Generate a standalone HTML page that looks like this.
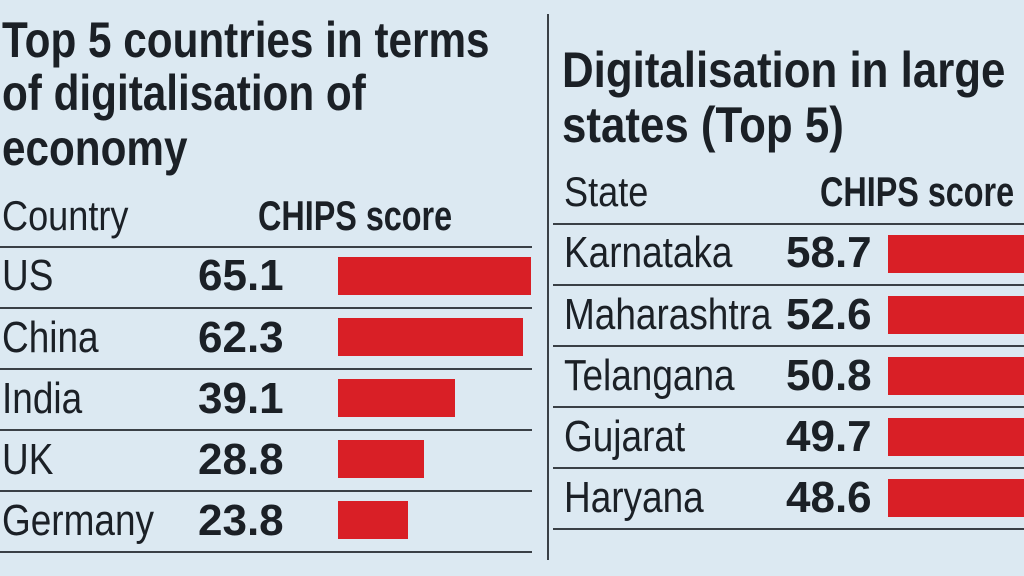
<!DOCTYPE html>
<html><head><meta charset="utf-8"><style>
body{margin:0;width:1024px;height:576px;background:#dce9f2;position:relative;overflow:hidden;font-family:"Liberation Sans",sans-serif;color:#1b2026}
.t{position:absolute;white-space:nowrap;line-height:1;transform-origin:0 50%}
.h{font-weight:bold;font-size:50px;transform:scaleX(0.845)}
.h2{font-weight:bold;font-size:50px;transform:scaleX(0.877)}
.n{font-size:44px;transform:scaleX(0.84)}
.hn{font-size:42px;transform:scaleX(0.86)}
.hb{font-weight:bold;font-size:42px;transform:scaleX(0.77)}
.b{font-weight:bold;font-size:44px}
.l{position:absolute;height:2px;background:#3a4046}
.r{position:absolute;background:#d91f26}
</style></head><body>
<div class="t h" style="left:2px;top:15px">Top 5 countries in terms</div>
<div class="t h" style="left:2px;top:68px">of digitalisation of</div>
<div class="t h" style="left:2px;top:123px">economy</div>
<div class="t hn" style="left:2px;top:195px">Country</div>
<div class="t hb" style="left:258px;top:195px">CHIPS score</div>
<div class="l" style="left:0;width:532px;top:246px"></div>
<div class="l" style="left:0;width:532px;top:307px"></div>
<div class="l" style="left:0;width:532px;top:368px"></div>
<div class="l" style="left:0;width:532px;top:429px"></div>
<div class="l" style="left:0;width:532px;top:490px"></div>
<div class="l" style="left:0;width:532px;top:551px"></div>
<div class="t n" style="left:2px;top:254px">US</div><div class="t b" style="left:198px;top:254px">65.1</div><div class="r" style="left:338px;width:193px;top:257px;height:38px"></div>
<div class="t n" style="left:2px;top:316px">China</div><div class="t b" style="left:198px;top:316px">62.3</div><div class="r" style="left:338px;width:185px;top:318px;height:38px"></div>
<div class="t n" style="left:2px;top:377px">India</div><div class="t b" style="left:198px;top:377px">39.1</div><div class="r" style="left:338px;width:117px;top:379px;height:38px"></div>
<div class="t n" style="left:2px;top:438px">UK</div><div class="t b" style="left:198px;top:438px">28.8</div><div class="r" style="left:338px;width:86px;top:440px;height:38px"></div>
<div class="t n" style="left:2px;top:499px">Germany</div><div class="t b" style="left:198px;top:499px">23.8</div><div class="r" style="left:338px;width:70px;top:501px;height:38px"></div>
<div style="position:absolute;left:547px;top:14px;width:2px;height:546px;background:#3a4046"></div>
<div class="t h2" style="left:562px;top:45px">Digitalisation in large</div>
<div class="t h2" style="left:562px;top:100px">states (Top 5)</div>
<div class="t hn" style="left:564px;top:171px">State</div>
<div class="t hb" style="left:820px;top:171px">CHIPS score</div>
<div class="l" style="left:553px;width:471px;top:223px"></div>
<div class="l" style="left:553px;width:471px;top:284px"></div>
<div class="l" style="left:553px;width:471px;top:345px"></div>
<div class="l" style="left:553px;width:471px;top:406px"></div>
<div class="l" style="left:553px;width:471px;top:467px"></div>
<div class="l" style="left:553px;width:471px;top:528px"></div>
<div class="t n" style="left:564px;top:231px">Karnataka</div><div class="t b" style="left:786px;top:231px">58.7</div><div class="r" style="left:888px;width:136px;top:235px;height:38px"></div>
<div class="t n" style="left:564px;top:293px">Maharashtra</div><div class="t b" style="left:786px;top:293px">52.6</div><div class="r" style="left:888px;width:136px;top:296px;height:38px"></div>
<div class="t n" style="left:564px;top:354px">Telangana</div><div class="t b" style="left:786px;top:354px">50.8</div><div class="r" style="left:888px;width:136px;top:357px;height:38px"></div>
<div class="t n" style="left:564px;top:415px">Gujarat</div><div class="t b" style="left:786px;top:415px">49.7</div><div class="r" style="left:888px;width:136px;top:418px;height:38px"></div>
<div class="t n" style="left:564px;top:476px">Haryana</div><div class="t b" style="left:786px;top:476px">48.6</div><div class="r" style="left:888px;width:136px;top:479px;height:38px"></div>
</body></html>
